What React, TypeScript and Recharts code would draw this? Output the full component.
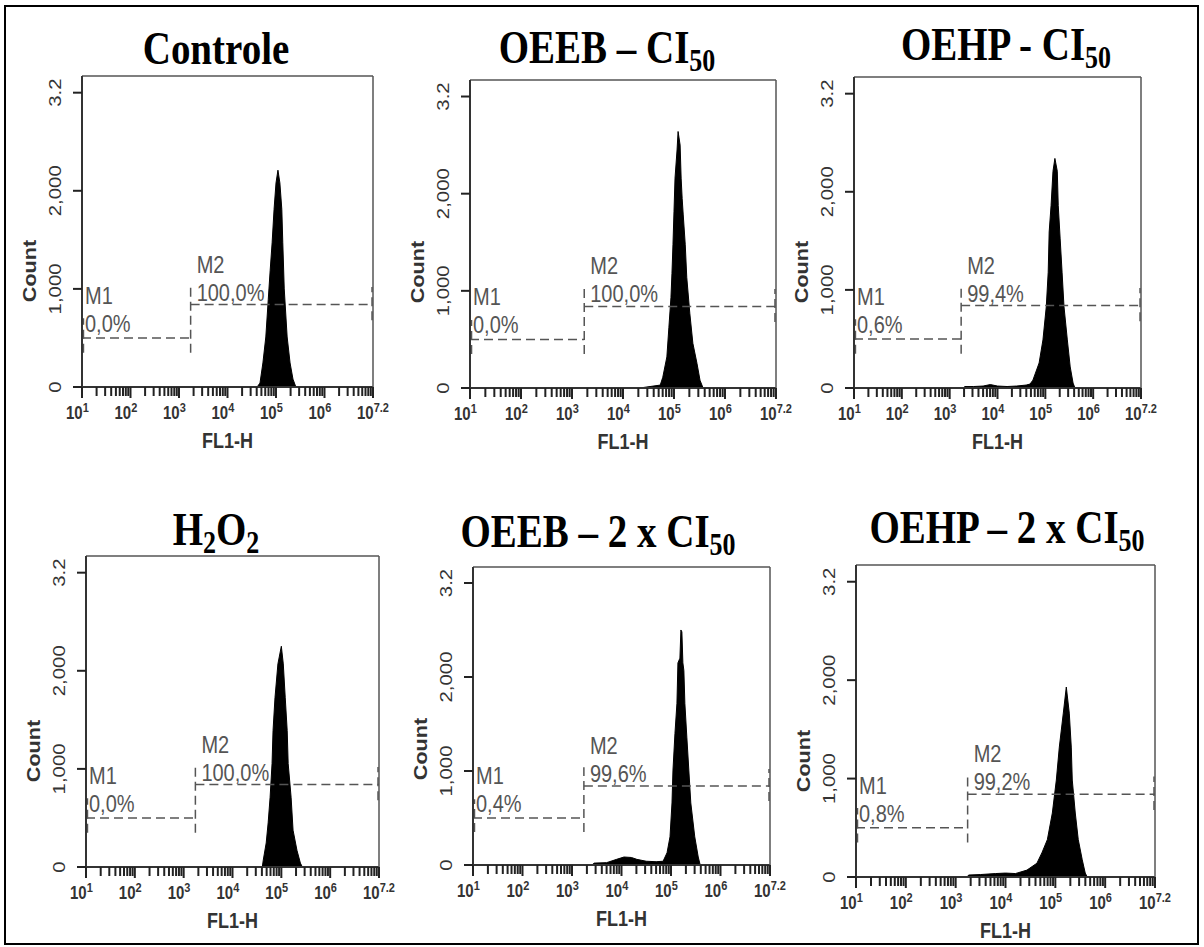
import React from 'react';
import { ComposedChart, Area, XAxis, YAxis, ReferenceLine, ReferenceDot } from 'recharts';

// axis ticks
const yTickValues = [0, 1000, 2000, 3000];
const yTickLabels = ['0', '1,000', '2,000', '3.2'];
const decadeTicks = [1, 2, 3, 4, 5, 6, 7];
const decadeLabels = ['1', '2', '3', '4', '5', '6', '7.2'];
const minorSteps = [2, 3, 4, 5, 6, 7, 8, 9];

// gates M1 / M2 (log FL1-H units, counts)
const m1Level = 500;
const m2Level = 840;
const gateSplit = 3.24;

// histograms: FL1-H position (log10) and count
const controleFl1 = [4.61, 4.67, 4.73, 4.79, 4.84, 4.88, 4.92, 4.96, 5.0, 5.04, 5.08, 5.12, 5.14, 5.17, 5.23, 5.29, 5.35, 5.41];
const controleCount = [0, 40, 245, 510, 890, 1190, 1470, 1810, 2080, 2210, 2080, 1810, 1470, 1000, 510, 245, 80, 0];

const oeebFl1 = [4.33, 4.53, 4.73, 4.78, 4.86, 4.9, 4.94, 4.96, 4.98, 5.0, 5.02, 5.06, 5.08, 5.12, 5.14, 5.16, 5.18, 5.22, 5.25, 5.31, 5.37, 5.45, 5.51, 5.57];
const oeebCount = [0, 15, 30, 110, 320, 625, 930, 1180, 1480, 1820, 2160, 2450, 2640, 2500, 2160, 1950, 1790, 1480, 1140, 770, 460, 255, 80, 0];

const oehpFl1 = [3.28, 3.32, 3.5, 3.7, 3.85, 4.0, 4.2, 4.4, 4.6, 4.68, 4.74, 4.87, 4.95, 5.02, 5.06, 5.08, 5.12, 5.16, 5.2, 5.25, 5.27, 5.31, 5.35, 5.39, 5.46, 5.52, 5.58, 5.62];
const oehpCount = [0, 15, 15, 20, 35, 20, 15, 20, 30, 40, 80, 255, 490, 830, 1180, 1590, 1860, 2210, 2340, 2210, 1860, 1520, 1180, 830, 490, 215, 50, 0];

const h2o2Fl1 = [4.61, 4.63, 4.69, 4.73, 4.77, 4.81, 4.83, 4.87, 4.93, 5.0, 5.04, 5.08, 5.12, 5.14, 5.2, 5.24, 5.32, 5.39, 5.43];
const h2o2Count = [0, 70, 245, 450, 710, 1055, 1390, 1725, 2070, 2250, 2070, 1725, 1390, 1055, 710, 375, 170, 40, 0];

const oeeb2Fl1 = [3.4, 3.45, 3.7, 3.9, 4.05, 4.2, 4.31, 4.5, 4.7, 4.84, 4.92, 4.98, 5.02, 5.04, 5.08, 5.12, 5.14, 5.18, 5.2, 5.22, 5.24, 5.26, 5.28, 5.32, 5.36, 5.4, 5.48, 5.55, 5.59];
const oeeb2Count = [0, 20, 25, 60, 85, 80, 60, 40, 35, 40, 130, 300, 660, 1010, 1400, 1720, 2150, 2200, 2500, 2480, 2150, 2070, 1720, 1360, 1010, 660, 300, 85, 0];

const oehp2Fl1 = [3.23, 3.26, 3.5, 3.8, 4.0, 4.2, 4.43, 4.63, 4.73, 4.84, 4.94, 5.02, 5.08, 5.16, 5.22, 5.28, 5.32, 5.34, 5.4, 5.46, 5.54, 5.6, 5.64];
const oehp2Count = [0, 20, 25, 35, 40, 35, 70, 140, 245, 380, 650, 985, 1320, 1665, 1930, 1665, 1320, 985, 650, 380, 175, 40, 0];

type Part = { t: string; sub?: boolean };

const panels = [
  { title: [{ t: 'Controle' }] as Part[], cx: 216, base: 64, box: { left: 82, top: 76, w: 291, h: 311 }, xs: controleFl1, ys: controleCount, m1: '0,0%', m2: '100,0%' },
  { title: [{ t: 'OEEB – CI' }, { t: '50', sub: true }], cx: 607, base: 63, box: { left: 470, top: 80, w: 306, h: 308 }, xs: oeebFl1, ys: oeebCount, m1: '0,0%', m2: '100,0%' },
  { title: [{ t: 'OEHP - CI' }, { t: '50', sub: true }], cx: 1006, base: 60, box: { left: 854, top: 77, w: 287, h: 311 }, xs: oehpFl1, ys: oehpCount, m1: '0,6%', m2: '99,4%' },
  { title: [{ t: 'H' }, { t: '2', sub: true }, { t: 'O' }, { t: '2', sub: true }], cx: 216, base: 545, box: { left: 86, top: 556, w: 293, h: 311 }, xs: h2o2Fl1, ys: h2o2Count, m1: '0,0%', m2: '100,0%' },
  { title: [{ t: 'OEEB – 2 x CI' }, { t: '50', sub: true }], cx: 598, base: 547, box: { left: 473, top: 567, w: 297, h: 298 }, xs: oeeb2Fl1, ys: oeeb2Count, m1: '0,4%', m2: '99,6%' },
  { title: [{ t: 'OEHP – 2 x CI' }, { t: '50', sub: true }], cx: 1007, base: 543, box: { left: 856, top: 565, w: 299, h: 312 }, xs: oehp2Fl1, ys: oehp2Count, m1: '0,8%', m2: '99,2%' },
];

const xTicks: number[] = [];
decadeTicks.forEach((d) => {
  xTicks.push(d);
  if (d < 7) minorSteps.forEach((k) => xTicks.push(d + Math.log10(k)));
});

const SANS = "'Liberation Sans', Arial, sans-serif";
const SY = 1.2; // vertical stretch of the original figure

const XTick = (props: any) => {
  const { x, y, payload } = props;
  const idx = decadeTicks.indexOf(payload.value);
  const major = idx >= 0;
  return (
    <g>
      <line x1={x} y1={y} x2={x} y2={y + (major ? 11 : 9)} stroke="#222" strokeWidth={2} />
      {major && (
        <text transform={`translate(${x - 16},${y + 32}) scale(1,${SY})`} fontFamily={SANS} fontSize={15} fontWeight="bold" fill="#333">
          <tspan>10</tspan>
          <tspan dy={-6} fontSize={11}>{decadeLabels[idx]}</tspan>
        </text>
      )}
    </g>
  );
};

const YTick = (props: any) => {
  const { x, y, payload } = props;
  const idx = yTickValues.indexOf(payload.value);
  return (
    <g>
      <line x1={x - 9} y1={y} x2={x} y2={y} stroke="#222" strokeWidth={2} />
      <text transform={`translate(${x - 21},${y}) rotate(-90) scale(${SY},1)`} textAnchor="middle" fontFamily={SANS} fontSize={17} fill="#333">
        {yTickLabels[idx]}
      </text>
    </g>
  );
};

const countLabel = (props: any) => {
  const { x, y, width, height } = props.viewBox;
  const ax = x + width;
  return (
    <text transform={`translate(${ax - 46},${y + height - 116}) rotate(-90) scale(${SY},1)`} textAnchor="middle" fontFamily={SANS} fontSize={18} fontWeight="bold" fill="#333">
      Count
    </text>
  );
};

const fl1Label = (props: any) => {
  const { x, y, width } = props.viewBox;
  return (
    <text transform={`translate(${x + width / 2},${y + 61}) scale(1,${SY})`} textAnchor="middle" fontFamily={SANS} fontSize={18} fontWeight="bold" fill="#333">
      FL1-H
    </text>
  );
};

const gateText = (name: string, pct: string, dx: number, dyName: number, dyPct: number) => (p: any) => (
  <g>
    <text transform={`translate(${p.cx + dx},${p.cy + dyName}) scale(1,${SY})`} fontFamily={SANS} fontSize={20} fill="#555">
      {name}
    </text>
    <text transform={`translate(${p.cx + dx},${p.cy + dyPct}) scale(1,${SY})`} fontFamily={SANS} fontSize={20} fill="#555">
      {pct}
    </text>
  </g>
);

const dash = { stroke: '#555', strokeWidth: 1.5, strokeDasharray: '9 5' };

const Y_W = 60;
const X_H = 60;

function Histogram({ panel }: { panel: (typeof panels)[number] }) {
  const { box } = panel;
  const ml = 70;
  const mt = 40;
  const data = panel.xs.map((x, i) => ({ x, count: panel.ys[i] }));
  return (
    <div style={{ position: 'absolute', left: box.left - ml, top: box.top - mt }}>
      <ComposedChart
        width={box.w + ml + 50}
        height={box.h + mt + 100}
        data={data}
        margin={{ top: mt - 1, left: ml - Y_W, right: 49, bottom: 100 - X_H }}
      >
        <XAxis
          type="number"
          dataKey="x"
          domain={[1, 7]}
          ticks={xTicks}
          interval={0}
          tick={<XTick />}
          tickLine={false}
          tickSize={0}
          tickMargin={0}
          height={X_H}
          axisLine={{ stroke: '#333', strokeWidth: 2 }}
          label={fl1Label}
          allowDataOverflow
        />
        <XAxis xAxisId="top" orientation="top" type="number" domain={[1, 7]} tick={false} tickLine={false} height={1} axisLine={{ stroke: '#555', strokeWidth: 1.5 }} />
        <YAxis
          type="number"
          domain={[0, 3170]}
          ticks={yTickValues}
          interval={0}
          tick={<YTick />}
          tickLine={false}
          tickSize={0}
          tickMargin={0}
          width={Y_W}
          axisLine={{ stroke: '#333', strokeWidth: 2 }}
          label={countLabel}
          allowDataOverflow
        />
        <YAxis yAxisId="right" orientation="right" type="number" domain={[0, 3170]} tick={false} tickLine={false} width={1} axisLine={{ stroke: '#555', strokeWidth: 1.5 }} />
        <Area type="linear" dataKey="count" fill="#000" fillOpacity={1} stroke="#000" strokeWidth={1} dot={false} activeDot={false} isAnimationActive={false} />
        <ReferenceLine segment={[{ x: 1, y: m1Level }, { x: gateSplit, y: m1Level }]} {...dash} ifOverflow="visible" />
        <ReferenceLine segment={[{ x: gateSplit, y: m2Level }, { x: 7, y: m2Level }]} {...dash} ifOverflow="visible" />
        <ReferenceLine segment={[{ x: 1.03, y: 350 }, { x: 1.03, y: 700 }]} {...dash} ifOverflow="visible" />
        <ReferenceLine segment={[{ x: gateSplit, y: 350 }, { x: gateSplit, y: 1040 }]} {...dash} ifOverflow="visible" />
        <ReferenceLine segment={[{ x: 6.98, y: 680 }, { x: 6.98, y: 1020 }]} {...dash} ifOverflow="visible" />
        <ReferenceDot x={1} y={m1Level} r={0} ifOverflow="visible" shape={gateText('M1', panel.m1, 3, -34, -6)} />
        <ReferenceDot x={gateSplit} y={m2Level} r={0} ifOverflow="visible" shape={gateText('M2', panel.m2, 6, -32, -4)} />
      </ComposedChart>
    </div>
  );
}

export default function App() {
  return (
    <div style={{ position: 'absolute', left: 0, top: 0, width: 1204, height: 947, background: '#fff', overflow: 'hidden' }}>
      {panels.map((p, i) => (
        <Histogram key={i} panel={p} />
      ))}
      <svg width={1204} height={947} style={{ position: 'absolute', left: 0, top: 0, pointerEvents: 'none' }}>
        <rect x={5} y={6} width={1193} height={938} fill="none" stroke="#000" strokeWidth={2} />
        {panels.map((p, i) => (
          <text
            key={i}
            transform={`translate(${p.cx},${p.base}) scale(1,${SY})`}
            textAnchor="middle"
            fontFamily="'Liberation Serif', 'Times New Roman', serif"
            fontWeight="bold"
            fontSize={39}
            fill="#000"
          >
            {p.title.map((part, j) =>
              part.sub ? (
                <tspan key={j} fontSize={26} dy={6.5}>
                  {part.t}
                </tspan>
              ) : (
                <tspan key={j} dy={j > 0 && p.title[j - 1].sub ? -6.5 : 0}>
                  {part.t}
                </tspan>
              )
            )}
          </text>
        ))}
      </svg>
    </div>
  );
}
